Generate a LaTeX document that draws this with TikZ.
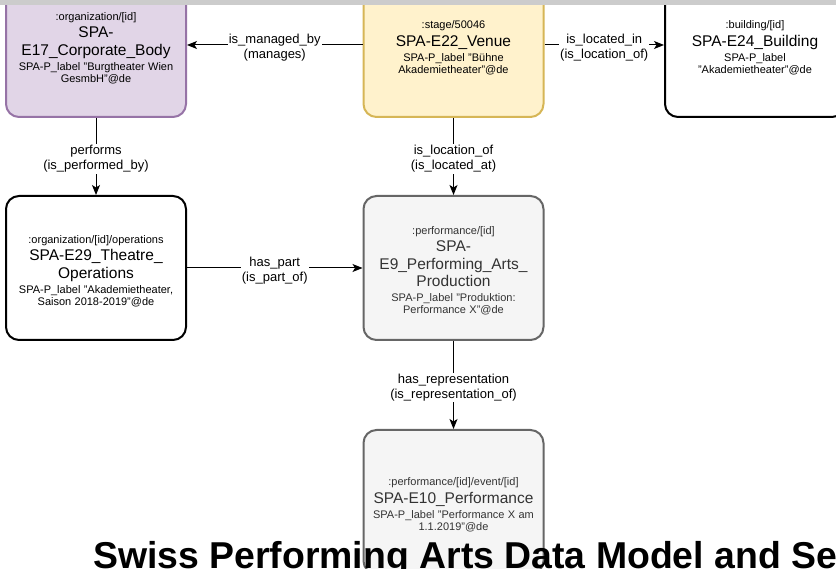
\documentclass[tikz,border=0pt]{standalone}
\usepackage{fontspec}
\setmainfont{Liberation Sans}
\usepackage{xcolor}
\usetikzlibrary{arrows.meta}

\definecolor{orgfill}{HTML}{E1D5E7}
\definecolor{orgline}{HTML}{9673A6}
\definecolor{venuefill}{HTML}{FFF2CC}
\definecolor{venueline}{HTML}{D6B656}
\definecolor{perffill}{HTML}{F5F5F5}
\definecolor{perfline}{HTML}{666666}
\definecolor{perftext}{HTML}{333333}
\definecolor{topbar}{HTML}{CCCCCC}

\newcommand{\smalltxt}{\fontsize{11}{13}\selectfont}
\newcommand{\bigtxt}{\fontsize{15.5}{17.5}\selectfont}
\newcommand{\labtxt}{\fontsize{11}{15}\selectfont}

\begin{document}
\begin{tikzpicture}[x=1pt, y=-1pt,
    entity/.style={draw, line width=2pt, rounded corners=13pt, minimum width=180pt,
        minimum height=144pt, text width=176pt, inner sep=1pt, align=center,
        execute at begin node={\rule{0pt}{14pt}}},
    org/.style={entity, fill=orgfill, draw=orgline},
    venue/.style={entity, fill=venuefill, draw=venueline},
    plain/.style={entity, fill=white, draw=black},
    perf/.style={entity, fill=perffill, draw=perfline, text=perftext},
    rel/.style={fill=white, inner sep=1pt, align=center, yshift=-2.5pt,
        font=\fontsize{13}{15}\selectfont},
    >={Stealth[length=10pt, width=8pt, inset=2.5pt]}]

    \useasboundingbox (0,0) rectangle (836,569);
    \clip (0,0) rectangle (836,569);

    \node[org] (e17) at (96,45) {\smalltxt :organization/[id]\\
        \bigtxt SPA-\\ E17\_Corporate\_Body\\
        \labtxt SPA-P\_label "Burgtheater Wien\\ GesmbH"@de};
    \node[venue] (e22) at (453.5,45) {\smalltxt :stage/50046\\
        \bigtxt SPA-E22\_Venue\\
        \labtxt SPA-P\_label "Bühne\\ Akademietheater"@de};
    \node[plain] (e24) at (755,45) {\smalltxt :building/[id]\\
        \bigtxt SPA-E24\_Building\\
        \labtxt SPA-P\_label\\ "Akademietheater"@de};
    \node[plain] (e29) at (96,268) {\smalltxt :organization/[id]/operations\\
        \bigtxt SPA-E29\_Theatre\_\\ Operations\\
        \labtxt SPA-P\_label "Akademietheater,\\ Saison 2018-2019"@de};
    \node[perf] (e9) at (453.5,268) {\smalltxt :performance/[id]\\
        \bigtxt SPA-\\ E9\_Performing\_Arts\_\\ Production\\
        \labtxt SPA-P\_label "Produktion:\\ Performance X"@de};
    \node[perf] (e10) at (453.5,502) {\smalltxt :performance/[id]/event/[id]\\
        \bigtxt SPA-E10\_Performance\\
        \labtxt SPA-P\_label "Performance X am\\ 1.1.2019"@de};

    \path[->, line width=1pt]
        (e22) edge node[rel] {is\_managed\_by\\(manages)} (e17)
        (e22) edge node[rel] {is\_located\_in\\(is\_location\_of)} (e24)
        (e17) edge node[rel] {performs\\(is\_performed\_by)} (e29)
        (e22) edge node[rel] {is\_location\_of\\(is\_located\_at)} (e9)
        (e29) edge node[rel] {has\_part\\(is\_part\_of)} (e9)
        (e9) edge node[rel] {has\_representation\\(is\_representation\_of)} (e10);

    \fill[topbar] (0,0) rectangle (836,5);

    \node[anchor=base west, inner sep=0pt, font=\fontsize{37.4}{40}\selectfont\bfseries]
        (title) at (93,568) {Swiss Performing Arts Data Model and Se};
\end{tikzpicture}
\end{document}
